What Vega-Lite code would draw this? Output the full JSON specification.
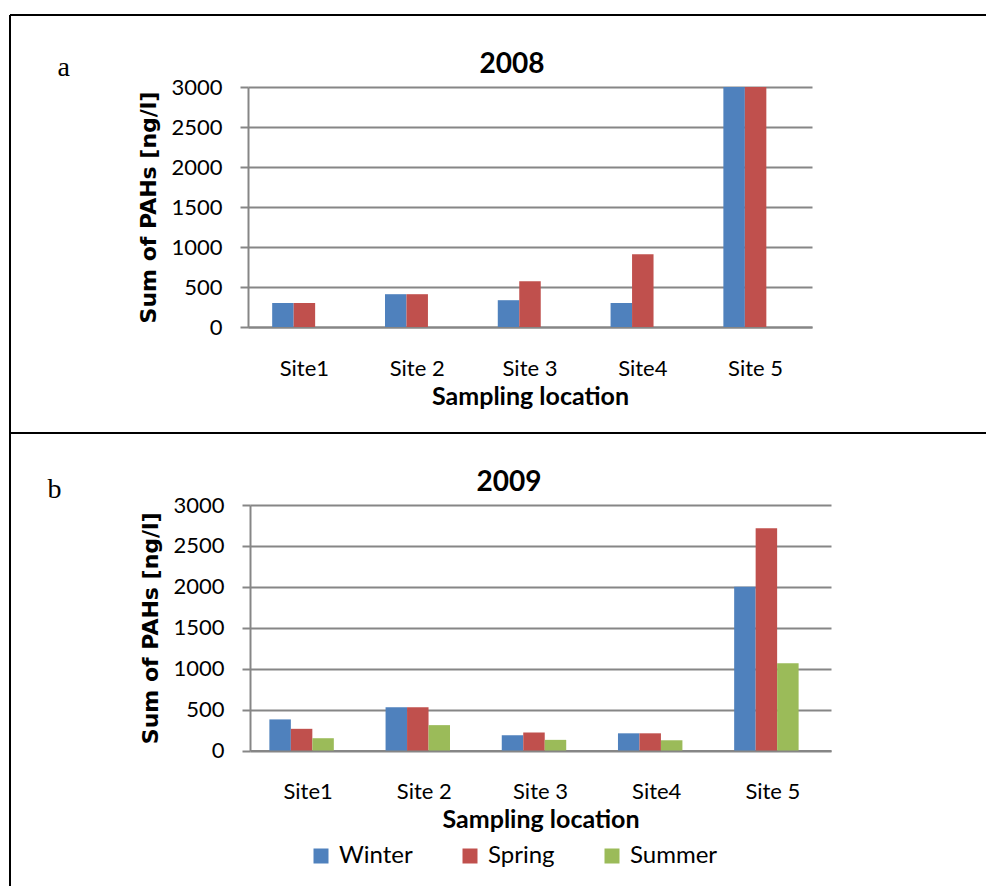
{
  "$schema": "https://vega.github.io/schema/vega-lite/v6.json",
  "background": "white",
  "padding": {"left": 9, "top": 14, "right": 0, "bottom": 0},
  "spacing": -2,
  "resolve": {"legend": {"color": "independent"}},
  "config": {
    "font": "Lato",
    "axis": {
      "labelFont": "Lato",
      "labelFontSize": 22,
      "labelColor": "black",
      "titleColor": "black",
      "domainColor": "#868686",
      "domainWidth": 2,
      "tickColor": "#868686",
      "tickWidth": 2,
      "gridColor": "#868686",
      "gridWidth": 2
    }
  },
  "datasets": {
    "pah": [
      {"year": 2008, "site": "Site1", "season": "Winter", "value": 300},
      {"year": 2008, "site": "Site1", "season": "Spring", "value": 300},
      {"year": 2008, "site": "Site 2", "season": "Winter", "value": 410},
      {"year": 2008, "site": "Site 2", "season": "Spring", "value": 410},
      {"year": 2008, "site": "Site 3", "season": "Winter", "value": 335},
      {"year": 2008, "site": "Site 3", "season": "Spring", "value": 572},
      {"year": 2008, "site": "Site4", "season": "Winter", "value": 300},
      {"year": 2008, "site": "Site4", "season": "Spring", "value": 908},
      {"year": 2008, "site": "Site 5", "season": "Winter", "value": 3000},
      {"year": 2008, "site": "Site 5", "season": "Spring", "value": 3000},
      {"year": 2009, "site": "Site1", "season": "Winter", "value": 380},
      {"year": 2009, "site": "Site1", "season": "Spring", "value": 265},
      {"year": 2009, "site": "Site1", "season": "Summer", "value": 150},
      {"year": 2009, "site": "Site 2", "season": "Winter", "value": 530},
      {"year": 2009, "site": "Site 2", "season": "Spring", "value": 530},
      {"year": 2009, "site": "Site 2", "season": "Summer", "value": 310},
      {"year": 2009, "site": "Site 3", "season": "Winter", "value": 185},
      {"year": 2009, "site": "Site 3", "season": "Spring", "value": 220},
      {"year": 2009, "site": "Site 3", "season": "Summer", "value": 130},
      {"year": 2009, "site": "Site4", "season": "Winter", "value": 210},
      {"year": 2009, "site": "Site4", "season": "Spring", "value": 210},
      {"year": 2009, "site": "Site4", "season": "Summer", "value": 125},
      {"year": 2009, "site": "Site 5", "season": "Winter", "value": 2000},
      {"year": 2009, "site": "Site 5", "season": "Spring", "value": 2715},
      {"year": 2009, "site": "Site 5", "season": "Summer", "value": 1065}
    ]
  },
  "vconcat": [
    {
      "width": 976,
      "height": 418,
      "view": {"stroke": "black", "strokeWidth": 2, "strokeDash": [976, 418, 1394, 0], "fill": "white"},
      "title": {"text": "2008", "font": "Lato", "fontSize": 28, "fontWeight": "bold", "color": "black", "anchor": "middle", "frame": "group", "offset": 0, "baseline": "alphabetic", "dx": 14, "dy": 86},
      "data": {"name": "pah"},
      "transform": [{"filter": "datum.year == 2008"}],
      "layer": [
        {
          "mark": {"type": "bar"},
          "encoding": {
            "x": {
              "field": "site", "type": "nominal", "sort": null,
              "scale": {"range": [238, 802], "paddingInner": 0.4286, "paddingOuter": 0.2143},
              "axis": {"orient": "bottom", "offset": -106, "title": "Sampling location", "titleFont": "Lato", "titleFontSize": 25, "titleFontWeight": "bold", "titlePadding": 5, "labelAngle": 0, "labelPadding": 31, "ticks": false, "tickSize": 0, "grid": false}
            },
            "xOffset": {"field": "season", "type": "nominal", "sort": ["Winter", "Spring", "Summer"], "scale": {"paddingInner": 0, "paddingOuter": 0}},
            "y": {
              "field": "value", "type": "quantitative",
              "scale": {"domain": [0, 3000], "range": [312, 72], "nice": false},
              "axis": {"orient": "left", "offset": -238, "values": [0, 500, 1000, 1500, 2000, 2500, 3000], "format": "d", "title": "Sum of PAHs [ng/l]", "titleFont": "DejaVu Sans", "titleFontSize": 22, "titleFontWeight": "bold", "titlePadding": 10, "labelPadding": 18, "tickSize": 8, "grid": true}
            },
            "color": {"field": "season", "type": "nominal", "scale": {"domain": ["Winter", "Spring", "Summer"], "range": ["#4F81BD", "#C0504D", "#9BBB59"]}, "legend": null}
          }
        },
        {
          "mark": {"type": "bar", "opacity": 0},
          "encoding": {
            "x": {
              "field": "site", "type": "nominal", "sort": null,
              "axis": {"orient": "top", "title": "a", "labels": false, "ticks": false, "domain": false, "grid": false, "titleFont": "Liberation Serif", "titleFontSize": 28, "titleFontWeight": "normal", "titleAngle": 0, "titleAlign": "left", "titleBaseline": "alphabetic", "titleX": 47, "titleY": 60}
            }
          }
        }
      ],
      "resolve": {"axis": {"x": "independent"}}
    },
    {
      "width": 976,
      "height": 452,
      "view": {"stroke": "black", "strokeWidth": 2, "strokeDash": [0, 2404, 452, 0], "fill": "white"},
      "title": {"text": "2009", "font": "Lato", "fontSize": 28, "fontWeight": "bold", "color": "black", "anchor": "middle", "frame": "group", "offset": 0, "baseline": "alphabetic", "dx": 11, "dy": 85},
      "data": {"name": "pah"},
      "transform": [{"filter": "datum.year == 2009"}],
      "layer": [
        {
          "mark": {"type": "bar"},
          "encoding": {
            "x": {
              "field": "site", "type": "nominal", "sort": null,
              "scale": {"range": [240, 821], "paddingInner": 0.3333, "paddingOuter": 0.1667},
              "axis": {"orient": "bottom", "offset": -135.5, "title": "Sampling location", "titleFont": "Lato", "titleFontSize": 25, "titleFontWeight": "bold", "titlePadding": 5, "labelAngle": 0, "labelPadding": 31, "ticks": false, "tickSize": 0, "grid": false}
            },
            "xOffset": {"field": "season", "type": "nominal", "sort": ["Winter", "Spring", "Summer"], "scale": {"paddingInner": 0, "paddingOuter": 0}},
            "y": {
              "field": "value", "type": "quantitative",
              "scale": {"domain": [0, 3000], "range": [316.5, 71], "nice": false},
              "axis": {"orient": "left", "offset": -240, "values": [0, 500, 1000, 1500, 2000, 2500, 3000], "format": "d", "title": "Sum of PAHs [ng/l]", "titleFont": "DejaVu Sans", "titleFontSize": 22, "titleFontWeight": "bold", "titlePadding": 10, "labelPadding": 18, "tickSize": 8, "grid": true}
            },
            "color": {
              "field": "season", "type": "nominal",
              "scale": {"domain": ["Winter", "Spring", "Summer"], "range": ["#4F81BD", "#C0504D", "#9BBB59"]},
              "legend": {"orient": "none", "legendX": 299, "legendY": 410, "direction": "horizontal", "title": null, "symbolType": "square", "symbolSize": 225, "symbolStrokeWidth": 0, "symbolOpacity": 1, "labelFont": "Lato", "labelFontSize": 24, "labelColor": "black", "labelOffset": 6, "columnPadding": 45, "padding": 0}
            }
          }
        },
        {
          "mark": {"type": "bar", "opacity": 0},
          "encoding": {
            "x": {
              "field": "site", "type": "nominal", "sort": null,
              "axis": {"orient": "top", "title": "b", "labels": false, "ticks": false, "domain": false, "grid": false, "titleFont": "Liberation Serif", "titleFontSize": 28, "titleFontWeight": "normal", "titleAngle": 0, "titleAlign": "left", "titleBaseline": "alphabetic", "titleX": 37, "titleY": 63}
            }
          }
        }
      ],
      "resolve": {"axis": {"x": "independent"}}
    }
  ]
}
